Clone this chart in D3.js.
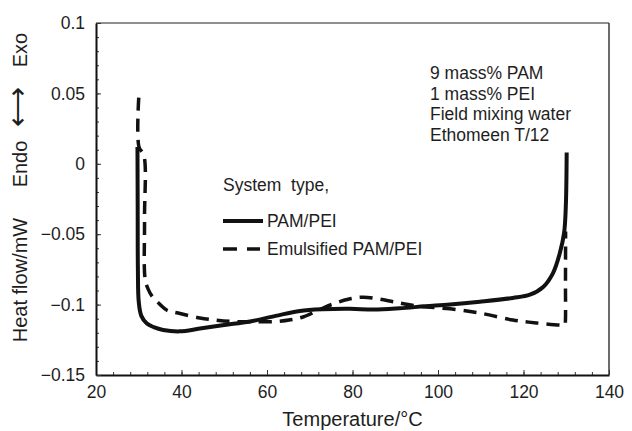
<!DOCTYPE html>
<html>
<head>
<meta charset="utf-8">
<script src="https://cdn.jsdelivr.net/npm/d3@7"></script>
<style>
  body { margin: 0; background: #fff; }
  svg { display: block; }
  text { font-family: "Liberation Sans", Arial, sans-serif; fill: #1e1e1e; }
</style>
</head>
<body>
<svg class="chart" width="632" height="431"></svg>
<script>
// PAM/PEI (solid)
var tempPam = [29.7, 29.75, 29.8, 30.0, 30.6, 31.9, 33.5, 35.7, 39.6, 44.3, 50, 56, 62, 67.7, 73, 79.4, 85, 91, 97, 102.8, 109.8, 117.5, 121.5, 124.6, 126.9, 128.5, 129.5, 129.9, 130.1];
var flowPam = [0.012, -0.03, -0.075, -0.098, -0.108, -0.1135, -0.116, -0.118, -0.119, -0.117, -0.1145, -0.112, -0.108, -0.1045, -0.1033, -0.103, -0.1035, -0.1026, -0.1012, -0.1, -0.098, -0.0953, -0.093, -0.0875, -0.0776, -0.0634, -0.049, -0.03, 0.008];

// Emulsified PAM/PEI (dashed)
var tempEmul = [30.0, 30.05, 31.2, 31.35, 31.5, 32.2, 33.1, 35, 36.6, 39.2, 44.3, 48, 52, 57, 62.3, 65.5, 68.4, 72, 75.4, 79, 82.5, 86, 89.5, 93, 97.4, 102.8, 109.8, 117.5, 123, 128.5, 129.7, 129.8, 129.82, 129.85];
var flowEmul = [0.047, 0.012, 0.006, -0.04, -0.082, -0.089, -0.094, -0.1, -0.104, -0.106, -0.1095, -0.111, -0.112, -0.1122, -0.112, -0.1108, -0.1088, -0.104, -0.0996, -0.0962, -0.0947, -0.096, -0.098, -0.1, -0.1017, -0.103, -0.106, -0.111, -0.113, -0.1145, -0.1145, -0.112, -0.085, -0.048];

var xTicks = [20, 40, 60, 80, 100, 120, 140];
var yTicks = [-0.15, -0.1, -0.05, 0, 0.05, 0.1];
var yTickLabels = ['\u22120.15', '\u22120.1', '\u22120.05', '0', '0.05', '0.1'];
var legendTitle = 'System\u00a0\u00a0type,';
var legendLabels = ['PAM/PEI', 'Emulsified PAM/PEI'];
var noteLines = ['9 mass% PAM', '1 mass% PEI', 'Field mixing water', 'Ethomeen T/12'];

var svg = d3.select('.chart');

var x = d3.scaleLinear()
  .domain([20, 140])
  .range([96, 609]);

var y = d3.scaleLinear()
  .domain([-0.15, 0.1])
  .range([375, 23]);

// top and right frame (grey, thinner)
svg.append('line')
  .attr('x1', x(20)).attr('x2', x(140))
  .attr('y1', y(0.1)).attr('y2', y(0.1))
  .attr('stroke', '#6a6a6a').attr('stroke-width', 1.5);
svg.append('line')
  .attr('x1', x(140)).attr('x2', x(140))
  .attr('y1', y(0.1)).attr('y2', y(-0.15))
  .attr('stroke', '#3a3a3a').attr('stroke-width', 1.5);

// minor ticks
svg.append('g')
  .attr('transform', 'translate(0,' + y(-0.15) + ')')
  .call(d3.axisBottom(x).tickValues(d3.range(20, 141, 4)).tickSize(-3).tickSizeOuter(0).tickFormat(''))
  .call(function (g) { g.select('.domain').remove(); });
svg.append('g')
  .attr('transform', 'translate(' + x(20) + ',0)')
  .call(d3.axisLeft(y).tickValues(d3.range(-15, 11, 1).map(function (d) { return d / 100; })).tickSize(-3).tickSizeOuter(0).tickFormat(''))
  .call(function (g) { g.select('.domain').remove(); });

// major axes
var xAxis = svg.append('g')
  .attr('transform', 'translate(0,' + y(-0.15) + ')')
  .call(d3.axisBottom(x).tickValues(xTicks).tickSize(-5).tickSizeOuter(0).tickPadding(11));

var yAxis = svg.append('g')
  .attr('transform', 'translate(' + x(20) + ',0)')
  .call(d3.axisLeft(y).tickValues(yTicks).tickSize(-5).tickSizeOuter(0).tickPadding(11)
    .tickFormat(function (d, i) { return yTickLabels[i]; }));

[xAxis, yAxis].forEach(function (g) {
  g.attr('font-size', 17.5).attr('font-family', '"Liberation Sans", Arial, sans-serif');
  g.select('.domain').attr('stroke', '#111').attr('stroke-width', 2);
});
svg.selectAll('.tick line').attr('stroke', '#333').attr('stroke-width', 1);

// curves
var line = d3.line()
  .x(function (d) { return x(d[0]); })
  .y(function (d) { return y(d[1]); })
  .curve(d3.curveCatmullRom.alpha(0.5));

svg.append('path')
  .datum(d3.zip(tempEmul, flowEmul))
  .attr('d', line)
  .attr('fill', 'none')
  .attr('stroke', '#111')
  .attr('stroke-width', 3.5)
  .attr('stroke-dasharray', '13,8');

svg.append('path')
  .datum(d3.zip(tempPam, flowPam))
  .attr('d', line)
  .attr('fill', 'none')
  .attr('stroke', '#111')
  .attr('stroke-width', 4);

// axis titles
svg.append('text')
  .attr('x', (x(20) + x(140)) / 2)
  .attr('y', 426)
  .attr('text-anchor', 'middle')
  .attr('font-size', 20)
  .text('Temperature/\u00b0C');

var yTitle = [
  { t: 'Heat flow/mW', c: 280, s: 20 },
  { t: 'Endo', c: 164, s: 20 },
  { t: '\u27f7', c: 107, s: 28 },
  { t: 'Exo', c: 50, s: 20 }
];
svg.selectAll('text.ytitle')
  .data(yTitle)
  .join('text')
  .classed('ytitle', true)
  .attr('transform', function (d) { return 'translate(27,' + d.c + ') rotate(-90)'; })
  .attr('text-anchor', 'middle')
  .attr('font-size', function (d) { return d.s; })
  .text(function (d) { return d.t; });

// legend
svg.append('text')
  .attr('x', 223).attr('y', 191)
  .attr('font-size', 17.5)
  .text(legendTitle);

svg.append('line')
  .attr('x1', 223).attr('x2', 263)
  .attr('y1', 221).attr('y2', 221)
  .attr('stroke', '#111').attr('stroke-width', 4);
svg.append('line')
  .attr('x1', 223).attr('x2', 260)
  .attr('y1', 249).attr('y2', 249)
  .attr('stroke', '#111').attr('stroke-width', 3.5)
  .attr('stroke-dasharray', '14,10');

svg.selectAll('text.leg')
  .data(legendLabels)
  .join('text')
  .classed('leg', true)
  .attr('x', 267)
  .attr('y', function (d, i) { return 227 + i * 28; })
  .attr('font-size', 17.5)
  .text(function (d) { return d; });

// notes
svg.selectAll('text.note')
  .data(noteLines)
  .join('text')
  .classed('note', true)
  .attr('x', 430)
  .attr('y', function (d, i) { return 79 + i * 20.7; })
  .attr('font-size', 17.5)
  .text(function (d) { return d; });
</script>
</body>
</html>
